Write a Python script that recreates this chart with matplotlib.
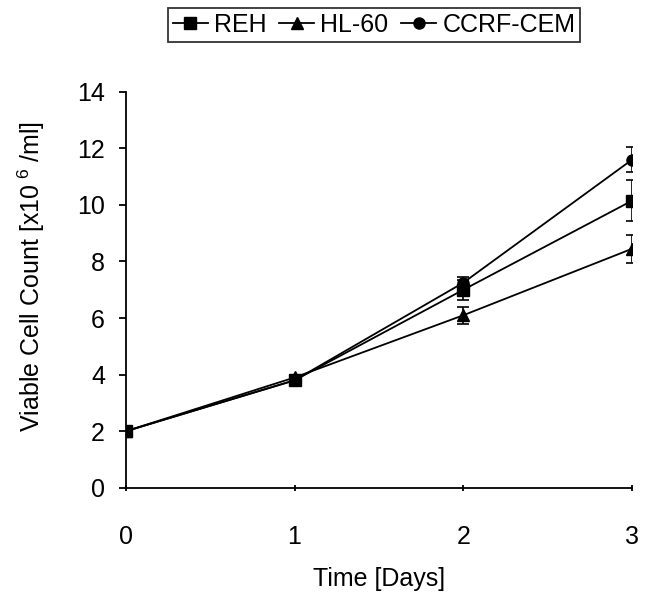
import matplotlib.pyplot as plt
from matplotlib.lines import Line2D
import numpy as np

plt.rcParams['font.family'] = ['Liberation Sans', 'DejaVu Sans']

days = [0, 1, 2, 3]
reh = [2.0, 3.8, 7.0, 10.15]
reh_err = [0.1, 0.1, 0.35, 0.72]
hl60 = [2.0, 3.9, 6.1, 8.45]
hl60_err = [0.1, 0.1, 0.3, 0.5]
ccrf = [2.0, 3.8, 7.25, 11.6]
ccrf_err = [0.1, 0.1, 0.2, 0.45]

fig = plt.figure(figsize=(6.45, 5.92), dpi=100)
ax = fig.add_axes([0.195, 0.176, 0.785, 0.669])

kw = dict(color='k', linewidth=1.3, capsize=4, elinewidth=1.2, capthick=1.2, markersize=8)
ax.errorbar(days, reh, yerr=reh_err, marker='s', **kw)
ax.errorbar(days, hl60, yerr=hl60_err, marker='^', **kw)
ax.errorbar(days, ccrf, yerr=ccrf_err, marker='o', **kw)

ax.set_xlim(0, 3)
ax.set_ylim(0, 14)
ax.set_xticks([0, 1, 2, 3])
ax.set_yticks(np.arange(0, 15, 2))
ax.spines['top'].set_visible(False)
ax.spines['right'].set_visible(False)
ax.spines['left'].set_linewidth(1.3)
ax.spines['bottom'].set_linewidth(1.3)
for s in ax.spines.values():
    s.set_clip_on(False)
ax.tick_params(axis='y', direction='out', length=5, width=1.3, labelsize=18, pad=10)
ax.tick_params(axis='x', direction='inout', length=5, width=1.3, labelsize=18, pad=24)
ax.set_xlabel('Time [Days]', fontsize=18, labelpad=13)
ax.set_ylabel('Viable Cell Count [x10$^{\\mathregular{\\ 6}}$ /ml]', fontsize=18)
ax.yaxis.set_label_coords(-0.156, 0.534)

handles = [Line2D([], [], color='k', lw=1.3, marker=m, markersize=8) for m in ['s', '^', 'o']]
leg = fig.legend(handles, ['REH', 'HL-60', 'CCRF-CEM'], loc='upper center',
                 bbox_to_anchor=(0.58, 0.987), ncol=3, fontsize=18,
                 frameon=True, fancybox=False, edgecolor='k', handlelength=1.4,
                 handletextpad=0.25, columnspacing=0.5, borderpad=0.2,
                 borderaxespad=0)
leg.get_frame().set_linewidth(1.3)

fig.savefig('out.png', dpi=100)
